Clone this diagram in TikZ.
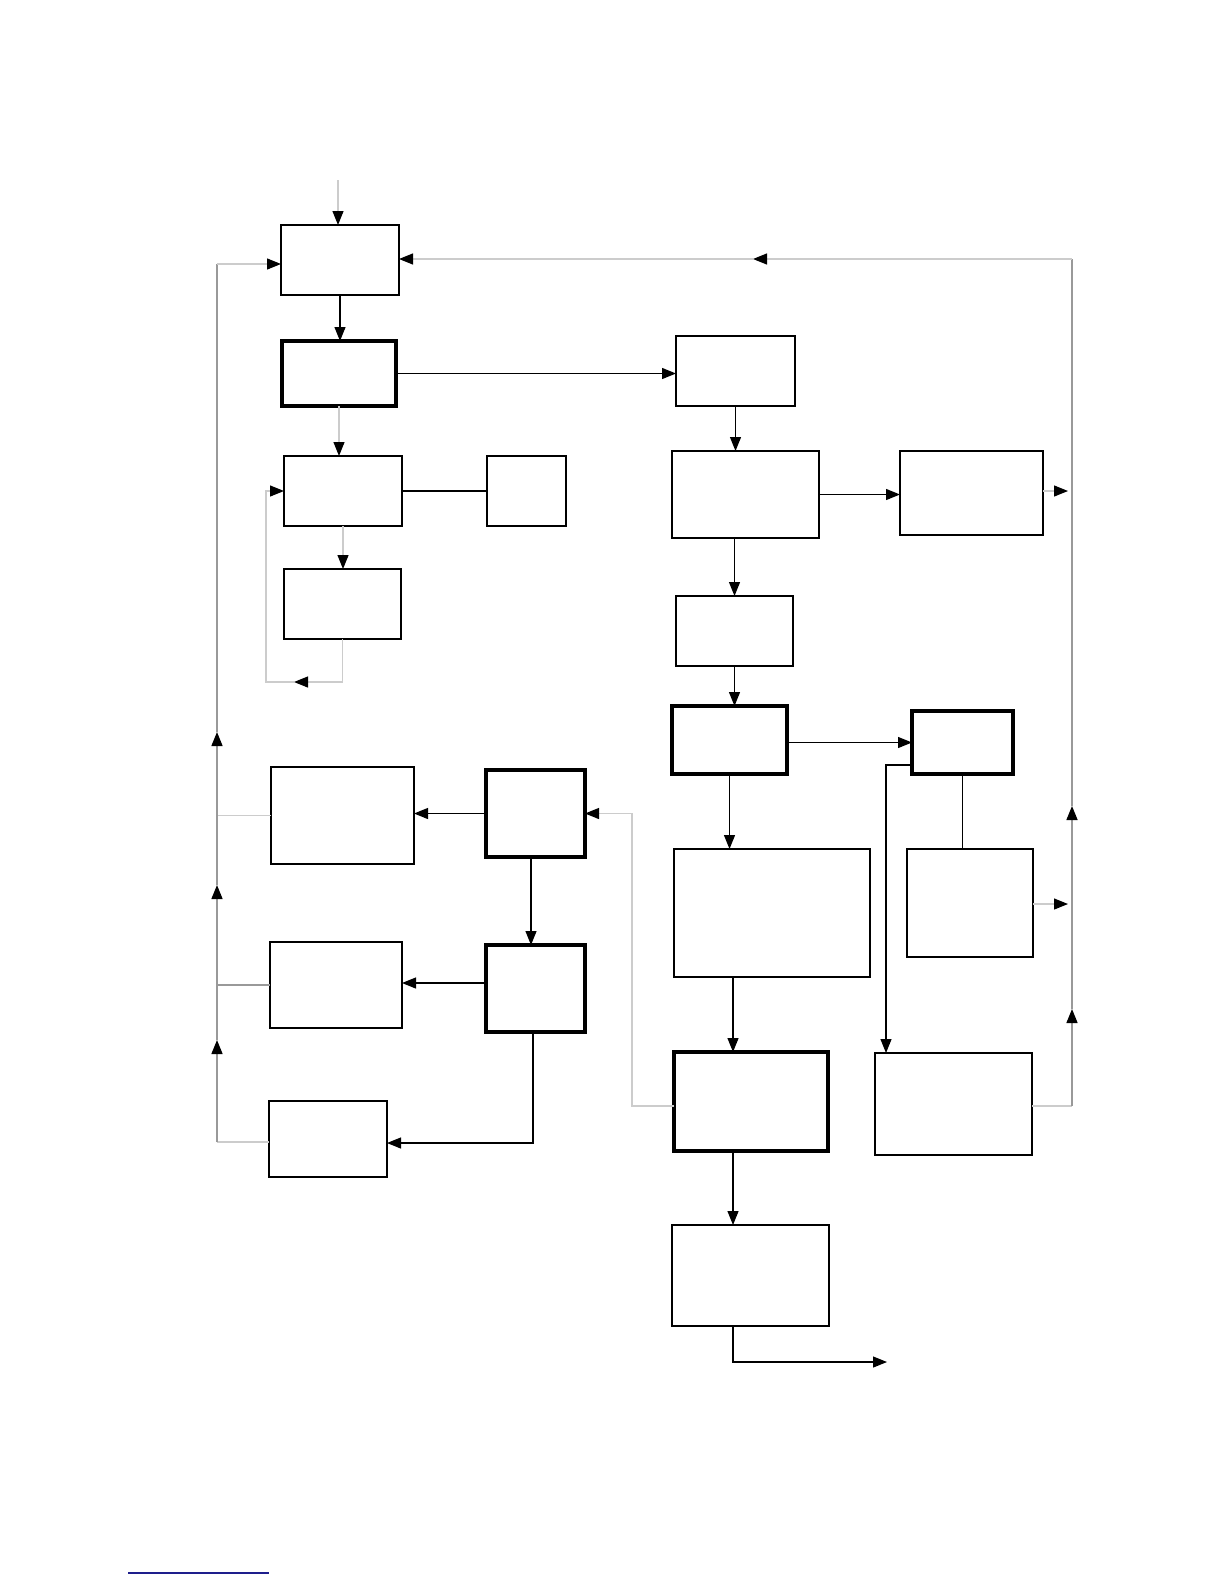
\documentclass[tikz,border=0pt]{standalone}
\usetikzlibrary{arrows.meta}
\tikzset{
  box/.style={draw=black,line width=0.6pt,inner sep=0pt,outer sep=0pt,fill=white},
  tbox/.style={box,line width=2pt},
  tip/.style={-{Triangle[length=7pt,width=5.5pt,color=black]}},
  blk/.style={draw=black,line width=0.6pt},
  lg/.style={draw=black!20,line width=0.6pt},
  mg/.style={draw=black!40,line width=0.7pt}
}
\definecolor{bluerule}{RGB}{30,30,140}
\begin{document}
\begin{tikzpicture}[x=0.5pt,y=-0.5pt]
\useasboundingbox (0,0) rectangle (1224,1584);

% boxes (sizes in pt = px/2)
\node[box,minimum width=59pt,minimum height=35pt] (A) at (340,260) {};
\node[tbox,minimum width=57pt,minimum height=32.5pt] (B) at (339,373.5) {};
\node[box,minimum width=59.5pt,minimum height=35pt] (C) at (735.5,371) {};
\node[box,minimum width=59pt,minimum height=35pt] (D) at (343,491) {};
\node[box,minimum width=39.5pt,minimum height=35pt] (E) at (526.5,491) {};
\node[box,minimum width=58.5pt,minimum height=35pt] (F) at (342.5,604) {};
\node[box,minimum width=73.5pt,minimum height=43.5pt] (G) at (745.5,494.5) {};
\node[box,minimum width=71.5pt,minimum height=42pt] (H) at (971.5,493) {};
\node[box,minimum width=58.5pt,minimum height=35pt] (I) at (734.5,631) {};
\node[tbox,minimum width=57.5pt,minimum height=34pt] (J) at (729.5,740) {};
\node[tbox,minimum width=50.5pt,minimum height=31.5pt] (K) at (962.5,742.5) {};
\node[box,minimum width=98pt,minimum height=64pt] (L) at (772,913) {};
\node[box,minimum width=63pt,minimum height=54pt] (M) at (970,903) {};
\node[box,minimum width=78.5pt,minimum height=51pt] (N) at (953.5,1104) {};
\node[tbox,minimum width=77pt,minimum height=49.5pt] (O) at (751,1101.5) {};
\node[tbox,minimum width=49.5pt,minimum height=43.5pt] (P) at (535.5,813.5) {};
\node[box,minimum width=71.5pt,minimum height=48.5pt] (Q) at (342.5,815.5) {};
\node[tbox,minimum width=49.5pt,minimum height=43.5pt] (R) at (535.5,988.5) {};
\node[box,minimum width=66pt,minimum height=43pt] (S) at (336,985) {};
\node[box,minimum width=59pt,minimum height=38pt] (T) at (328,1139) {};
\node[box,minimum width=78.5pt,minimum height=50.5pt] (U) at (750.5,1275.5) {};

% helper coordinates
\coordinate (in) at (338,180);
\coordinate (colx) at (733,0);
\coordinate (lp1) at (266,682);
\coordinate (lpm) at (294,682);
\coordinate (kn) at (886,765);
\coordinate (op) at (632,1106);
\coordinate (pr) at (531,0);
\coordinate (ry) at (0,983);
\coordinate (rt) at (533,1143);
\coordinate (ex) at (887,1362);
\coordinate (hT) at (1068,491);
\coordinate (mT) at (1068,904);
\coordinate (r0) at (1072,1106);
\coordinate (r1) at (1072,1009);
\coordinate (r2) at (1072,806);
\coordinate (r3) at (1072,259);
\coordinate (r4) at (753,259);
\coordinate (l0) at (217,1142);
\coordinate (l1) at (217,1040);
\coordinate (l2) at (217,885);
\coordinate (l3) at (217,732);
\coordinate (l4) at (217,264);

% main connectors
\draw[lg,tip] (in) -- (in |- A.north);
\draw[blk,tip] (A.south) -- (A.south |- B.north);
\draw[blk,tip] (B.east) -- (B.east -| C.west);
\draw[lg,tip] (B.south) -- (B.south |- D.north);
\draw[blk] (D.east) -- (D.east -| E.west);
\draw[lg,tip] (D.south) -- (D.south |- F.north);
\draw[lg,tip] (F.south) |- (lpm);
\draw[lg,tip] (lpm) -- (lp1) |- (D.west);
\draw[blk,tip] (C.south) -- (C.south |- G.north);
\draw[blk,tip] (G.east) -- (G.east -| H.west);
\draw[lg,tip] (H.east |- hT) -- (hT);
\draw[blk,tip] (I.north |- G.south) -- (I.north);
\draw[blk,tip] (I.south) -- (I.south |- J.north);
\draw[blk,tip] (J.east |- K.west) -- (K.west);
\draw[blk,tip] (J.south) -- (J.south |- L.north);
\draw[blk] (K.south) -- (K.south |- M.north);
\draw[blk,tip] (kn -| K.west) -- (kn) -- (kn |- N.north);
\draw[blk,tip] (colx |- L.south) -- (colx |- O.north);
\draw[lg,tip] (M.east |- mT) -- (mT);
\draw[blk,tip] (colx |- O.south) -- (colx |- U.north);
\draw[blk,tip] (colx |- U.south) |- (ex);

% O feedback to P
\draw[lg,tip] (op -| O.west) -- (op) |- (P.east);
\draw[blk,tip] (P.west) -- (P.west -| Q.east);
\draw[blk,tip] (pr |- P.south) -- (pr |- R.north);
\draw[blk,tip] (R.west |- ry) -- (S.east |- ry);
\draw[blk,tip] (rt |- R.south) -- (rt) -- (rt -| T.east);

% right trunk
\draw[lg] (N.east |- r0) -- (r0);
\draw[mg,tip] (r0) -- (r1);
\draw[mg,tip] (r1) -- (r2);
\draw[mg] (r2) -- (r3);
\draw[lg,tip] (r3) -- (r4);
\draw[lg,tip] (r4) -- (r4 -| A.east);

% left trunk
\draw[lg] (Q.west) -- (Q.west -| l0);
\draw[mg] (S.west) -- (S.west -| l0);
\draw[lg] (T.west |- l0) -- (l0);
\draw[mg,tip] (l0) -- (l1);
\draw[mg,tip] (l1) -- (l2);
\draw[mg,tip] (l2) -- (l3);
\draw[mg] (l3) -- (l4);
\draw[lg,tip] (l4) -- (l4 -| A.west);

% blue rule at bottom
\coordinate (bl1) at (128,1573);
\coordinate (bl2) at (269,1573);
\draw[draw=bluerule,line width=0.8pt] (bl1) -- (bl2);
\end{tikzpicture}
\end{document}
